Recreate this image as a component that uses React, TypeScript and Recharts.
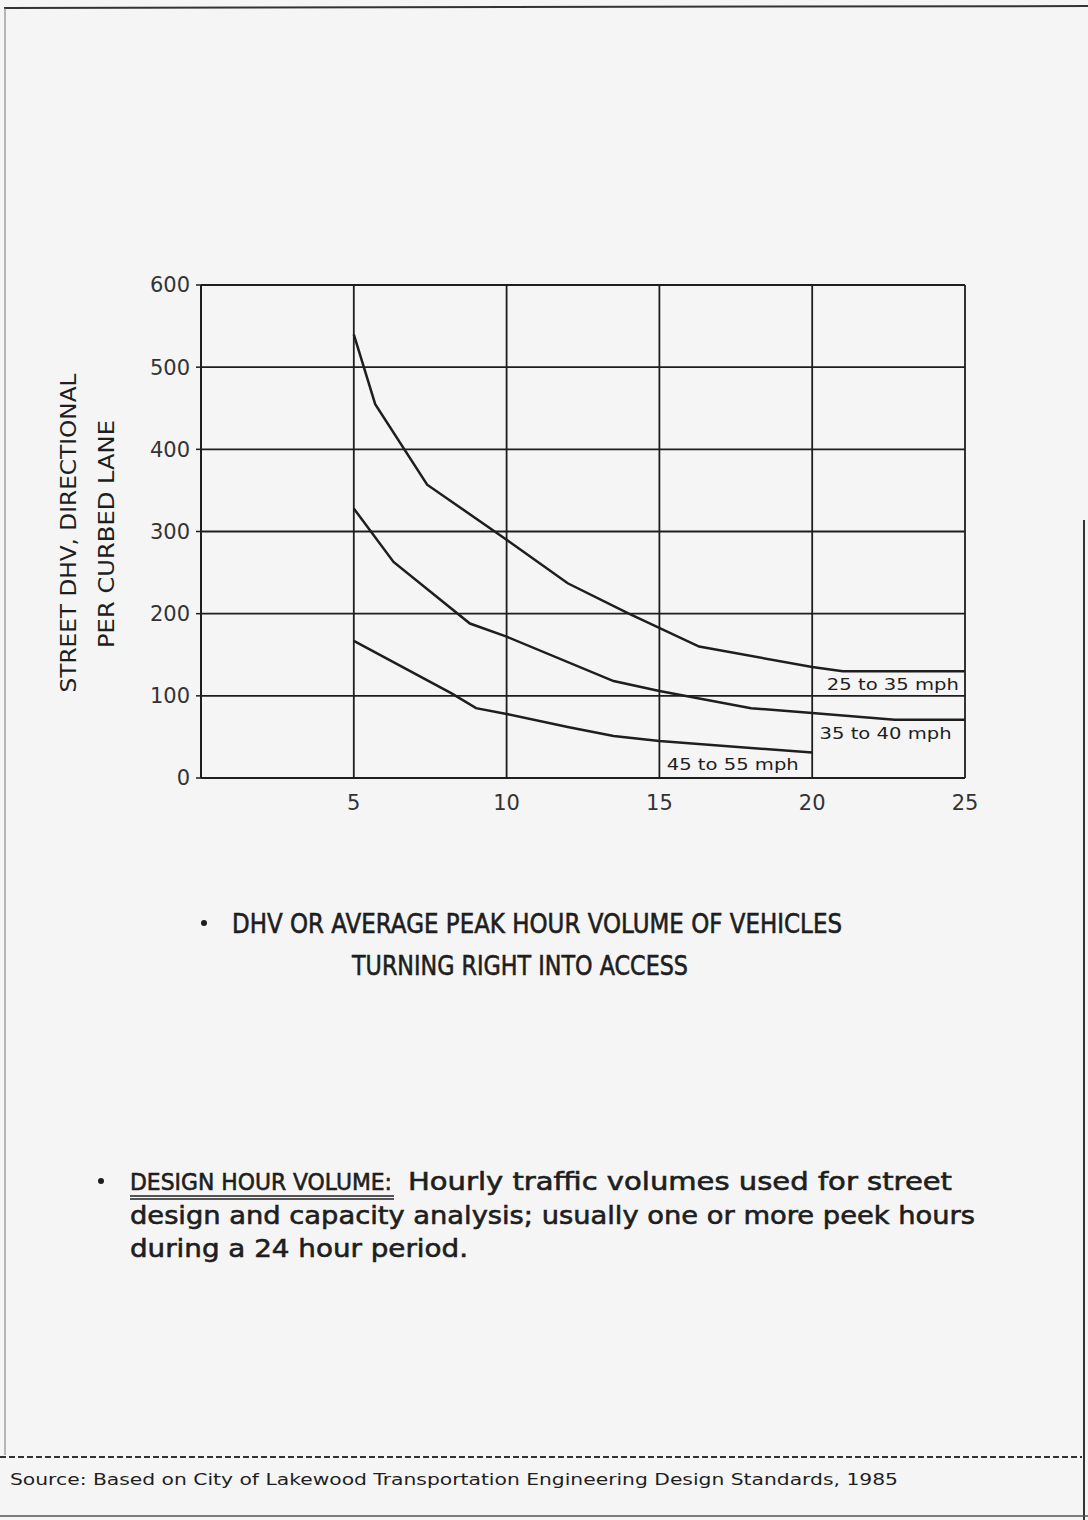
import React from 'react';
import {
  LineChart,
  Line,
  XAxis,
  YAxis,
  CartesianGrid,
  ReferenceDot,
} from 'recharts';

// speed bands shown on the chart
const speedBands = ['25 to 35 mph', '35 to 40 mph', '45 to 55 mph'];

// x = right turns per hour into access (x axis), y = street DHV per curbed lane
const band1X = [5, 5.7, 7.4, 10, 12, 14, 16.3, 20, 21, 25];
const band1Y = [540, 455, 357, 290, 237, 200, 160, 135, 130, 130];

const band2X = [5, 6.3, 8.8, 10, 13.5, 15, 18, 20, 22.7, 25];
const band2Y = [328, 263, 188, 172, 118, 106, 85, 79, 71, 71];

const band3X = [5, 8.2, 9, 10, 12, 13.5, 15, 20];
const band3Y = [167, 103, 85, 78, 62, 51, 45, 31];

const xTicks = [5, 10, 15, 20, 25];
const yTicks = [0, 100, 200, 300, 400, 500, 600];

// where each band's name sits inside the grid (chart units)
const labelX = [22.64, 22.4, 17.4];
const labelY = [114, 55, 17];

const toPoints = (xs: number[], ys: number[]) => xs.map((x, i) => ({ x, y: ys[i] }));

const series = [
  toPoints(band1X, band1Y),
  toPoints(band2X, band2Y),
  toPoints(band3X, band3Y),
];

const ink = '#1e1e1e';
const font = '"DejaVu Sans", sans-serif';

function BandLabel(props: any) {
  const { viewBox, value } = props;
  const cx = viewBox.x + viewBox.width / 2;
  const cy = viewBox.y + viewBox.height / 2;
  return (
    <text
      x={cx}
      y={cy + 6}
      textAnchor="middle"
      fontFamily={font}
      fontSize={16}
      fill={ink}
      textLength={132}
      lengthAdjust="spacingAndGlyphs"
    >
      {value}
    </text>
  );
}

// body copy: regular weight thickened a little, like the plotter lettering
const body = {
  fontFamily: font,
  fontSize: 24,
  fill: ink,
  stroke: ink,
  strokeWidth: 0.6,
  lengthAdjust: 'spacingAndGlyphs',
} as const;

function Page() {
  return (
    <svg
      width={1088}
      height={1520}
      style={{ position: 'absolute', left: 0, top: 0 }}
    >
      {/* page frame */}
      <line x1={4} y1={8} x2={1088} y2={6} stroke="#333" strokeWidth={2} />
      <line x1={5} y1={8} x2={5} y2={1455} stroke="#777" strokeWidth={1} />
      <line x1={1084} y1={520} x2={1084} y2={1520} stroke="#333" strokeWidth={2} />
      <line x1={0} y1={1457} x2={1082} y2={1457} stroke="#333" strokeWidth={2} strokeDasharray="6 3" />
      <line x1={0} y1={1516} x2={1088} y2={1516} stroke="#555" strokeWidth={1.5} />

      {/* y axis title */}
      <text
        transform="rotate(-90 76 533)"
        x={76}
        y={533}
        textAnchor="middle"
        fontFamily={font}
        fontSize={22}
        fill={ink}
        textLength={319}
        lengthAdjust="spacingAndGlyphs"
      >
        STREET DHV, DIRECTIONAL
      </text>
      <text
        transform="rotate(-90 114 534)"
        x={114}
        y={534}
        textAnchor="middle"
        fontFamily={font}
        fontSize={22}
        fill={ink}
        textLength={228}
        lengthAdjust="spacingAndGlyphs"
      >
        PER CURBED LANE
      </text>

      {/* caption under the chart */}
      <circle cx={204} cy={923} r={3} fill={ink} />
      <text x={232} y={933} {...body} fontSize={26} textLength={610}>
        DHV OR AVERAGE PEAK HOUR VOLUME OF VEHICLES
      </text>
      <text x={352} y={975} {...body} fontSize={26} textLength={336}>
        TURNING RIGHT INTO ACCESS
      </text>

      {/* definition */}
      <circle cx={101} cy={1181} r={3} fill={ink} />
      <text x={130} y={1190} {...body} fontSize={23} textLength={262}>
        DESIGN HOUR VOLUME:
      </text>
      <line x1={130} y1={1196} x2={394} y2={1196} stroke={ink} strokeWidth={1.5} />
      <line x1={130} y1={1199} x2={394} y2={1199} stroke={ink} strokeWidth={1.5} />
      <text x={408} y={1190} {...body} textLength={544}>
        Hourly traffic volumes used for street
      </text>
      <text x={130} y={1224} {...body} textLength={845}>
        design and capacity analysis; usually one or more peek hours
      </text>
      <text x={130} y={1257} {...body} textLength={338}>
        during a 24 hour period.
      </text>

      {/* source */}
      <text
        x={10}
        y={1485}
        fontFamily={font}
        fontSize={16}
        fill={ink}
        textLength={888}
        lengthAdjust="spacingAndGlyphs"
      >
        Source: Based on City of Lakewood Transportation Engineering Design Standards, 1985
      </text>
    </svg>
  );
}

export default function App() {
  return (
    <div
      style={{
        position: 'absolute',
        left: 0,
        top: 0,
        width: 1088,
        height: 1520,
        background: '#f5f5f5',
        overflow: 'hidden',
      }}
    >
      <Page />
      <div style={{ position: 'absolute', left: 0, top: 250 }}>
        <LineChart
          width={1000}
          height={600}
          margin={{ top: 35, right: 35, bottom: 42, left: 141 }}
        >
          <CartesianGrid stroke={ink} strokeWidth={1.8} />
          <XAxis
            type="number"
            dataKey="x"
            domain={[0, 25]}
            ticks={xTicks}
            height={30}
            tickLine={false}
            tickMargin={11}
            axisLine={{ stroke: ink, strokeWidth: 2 }}
            tick={{ fontFamily: font, fontSize: 21, fill: '#333' }}
            allowDataOverflow
          />
          <YAxis
            type="number"
            domain={[0, 600]}
            ticks={yTicks}
            width={60}
            tickSize={5}
            tickMargin={6}
            tickLine={{ stroke: ink, strokeWidth: 1.5 }}
            axisLine={{ stroke: ink, strokeWidth: 2 }}
            tick={{ fontFamily: font, fontSize: 21, fill: '#333' }}
            allowDataOverflow
          />
          {series.map((pts, i) => (
            <Line
              key={speedBands[i]}
              name={speedBands[i]}
              data={pts}
              dataKey="y"
              type="linear"
              stroke={ink}
              strokeWidth={2.5}
              dot={false}
              activeDot={false}
              isAnimationActive={false}
            />
          ))}
          {speedBands.map((name, i) => (
            <ReferenceDot
              key={'lbl' + i}
              x={labelX[i]}
              y={labelY[i]}
              r={1}
              fill="none"
              stroke="none"
              label={<BandLabel value={name} />}
            />
          ))}
        </LineChart>
      </div>
    </div>
  );
}
